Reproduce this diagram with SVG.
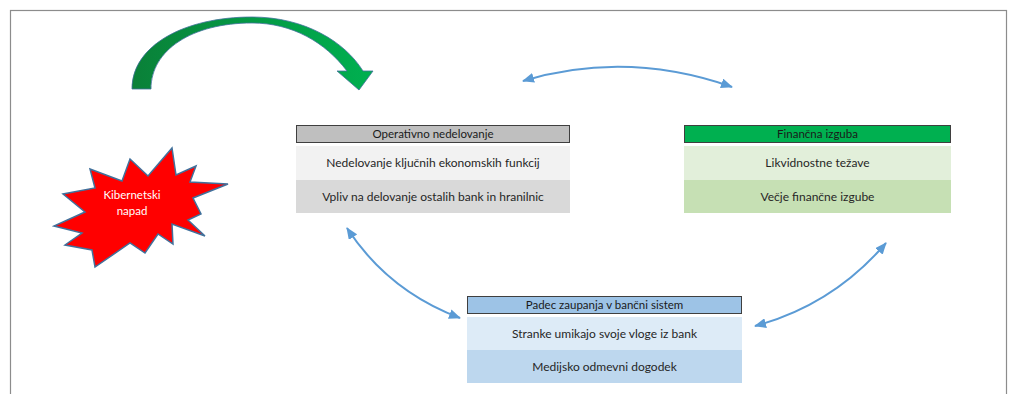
<svg xmlns="http://www.w3.org/2000/svg" width="1011" height="394" viewBox="0 0 1011 394">
  <style>
    .lbl { font-family: Lato, "Open Sans", "Liberation Sans", sans-serif; font-size: 12px; fill: #262626; text-anchor: middle; }
    .hdr { font-family: Lato, "Open Sans", "Liberation Sans", sans-serif; font-size: 11.5px; fill: #1a1a1a; text-anchor: middle; }
    .head { stroke: #3f3f3f; stroke-width: 1; }
    .link { fill: none; stroke: #5b9bd5; stroke-width: 2; }
  </style>
  <defs>
    <linearGradient id="greenFlow" x1="0" y1="0" x2="1" y2="0">
      <stop offset="0" stop-color="#0a8038"/>
      <stop offset="0.5" stop-color="#049a45"/>
      <stop offset="1" stop-color="#00b050"/>
    </linearGradient>
    <marker id="tip" viewBox="0 0 12 10" refX="11" refY="5" markerWidth="12" markerHeight="10" markerUnits="userSpaceOnUse" orient="auto-start-reverse">
      <path d="M0,0 L12,5 L0,10 Z" fill="#5b9bd5"/>
    </marker>
  </defs>

  <rect width="1011" height="394" fill="#ffffff"/>
  <!-- outer frame -->
  <rect x="10.5" y="10.5" width="996" height="400" fill="none" stroke="#8c8c8c" stroke-width="1.2"/>

  <!-- curved green arrow -->
  <g id="attack-arrow">
    <path d="M132,89 C132,45 185,17 252,17 C305,17 345,42 363,71 L373,71 L359,90 L337,71 L347,71 C325,42 292,23 252,23 C192,23 151,50 151,89 Z"
          fill="url(#greenFlow)" stroke="#41719c" stroke-width="0.8"/>
  </g>

  <!-- cyber attack burst -->
  <g id="cyber-attack">
    <polygon points="130,159 148,176 172,148 176,175 196,166 190,182 228,184 193,198 201,214 188,220 205,236 172,224 173,244 158,234 145,253 130,243 95,267 92,250 65,245 82,233 54,226 85,212 63,194 95,188 90,169 122,181"
             fill="#ff0000" stroke="#41719c" stroke-width="1.5" stroke-linejoin="miter"/>
    <text x="132" y="199" font-family="Lato, 'Open Sans', 'Liberation Sans', sans-serif" font-size="11.5" fill="#ffffff" text-anchor="middle">Kibernetski</text>
    <text x="132" y="215" font-family="Lato, 'Open Sans', 'Liberation Sans', sans-serif" font-size="11.5" fill="#ffffff" text-anchor="middle">napad</text>
  </g>

  <!-- operational failure -->
  <g id="operativno">
    <rect class="head" x="296.5" y="125.5" width="273" height="17" fill="#bfbfbf"/>
    <text class="hdr" x="433" y="138">Operativno nedelovanje</text>
    <rect x="296" y="146" width="274" height="34" fill="#f2f2f2"/>
    <text class="lbl" x="433" y="167">Nedelovanje ključnih ekonomskih funkcij</text>
    <rect x="296" y="180" width="274" height="33" fill="#d9d9d9"/>
    <text class="lbl" x="433" y="201">Vpliv na delovanje ostalih bank in hranilnic</text>
  </g>

  <!-- financial loss -->
  <g id="financna">
    <rect class="head" x="684.5" y="125.5" width="266" height="17" fill="#00b050"/>
    <text class="hdr" x="817.5" y="138">Finančna izguba</text>
    <rect x="684" y="146" width="267" height="34" fill="#e2efda"/>
    <text class="lbl" x="817.5" y="167">Likvidnostne težave</text>
    <rect x="684" y="180" width="267" height="33" fill="#c6e0b4"/>
    <text class="lbl" x="817.5" y="201">Večje finančne izgube</text>
  </g>

  <!-- loss of trust -->
  <g id="padec">
    <rect class="head" x="467.5" y="296.5" width="274" height="17" fill="#9dc3e6"/>
    <text class="hdr" x="604.5" y="309">Padec zaupanja v bančni sistem</text>
    <rect x="467" y="317" width="275" height="33" fill="#ddebf7"/>
    <text class="lbl" x="604.5" y="338">Stranke umikajo svoje vloge iz bank</text>
    <rect x="467" y="350" width="275" height="33" fill="#bdd7ee"/>
    <text class="lbl" x="604.5" y="371">Medijsko odmevni dogodek</text>
  </g>

  <!-- two-way links -->
  <g id="connectors">
    <path class="link" d="M523,81 Q626,50 732,87" marker-start="url(#tip)" marker-end="url(#tip)"/>
    <path class="link" d="M347,228 Q388,291 460,318" marker-start="url(#tip)" marker-end="url(#tip)"/>
    <path class="link" d="M886,243 Q833,305 755,326" marker-start="url(#tip)" marker-end="url(#tip)"/>
  </g>
</svg>
